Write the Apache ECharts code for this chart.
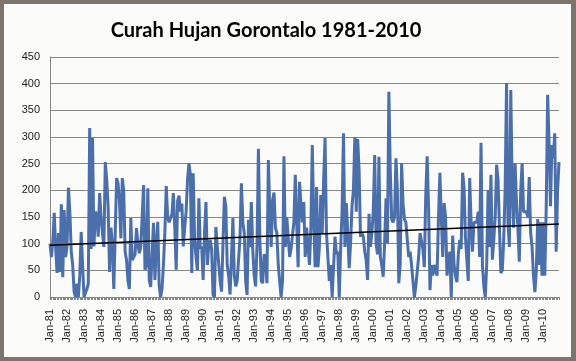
<!DOCTYPE html>
<html><head><meta charset="utf-8">
<script src="https://cdn.jsdelivr.net/npm/echarts@6/dist/echarts.min.js"></script>
<style>
html,body{margin:0;padding:0;width:576px;height:361px;background:#7c756e;overflow:hidden;}
#c{position:absolute;left:4px;top:4px;width:567px;height:353px;background:#fbfbfa;}
</style></head><body>
<div id="c"></div>
<script>
// ---- data ----
const years = [1981,1982,1983,1984,1985,1986,1987,1988,1989,1990,1991,1992,1993,1994,1995,1996,1997,1998,1999,2000,2001,2002,2003,2004,2005,2006,2007,2008,2009,2010];
const monthNames = ['Jan','Feb','Mar','Apr','May','Jun','Jul','Aug','Sep','Oct','Nov','Dec'];
const r1981 = [100, 75, 105, 158, 90, 45, 120, 47, 174, 37, 163, 75];
const r1982 = [94, 205, 160, 85, 60, 10, 0, 25, 0, 40, 122, 60];
const r1983 = [0, 0, 15, 25, 317, 90, 298, 95, 160, 155, 113, 195];
const r1984 = [150, 120, 94, 253, 220, 169, 47, 130, 100, 15, 120, 223];
const r1985 = [213, 180, 110, 223, 200, 85, 69, 30, 15, 148, 69, 69];
const r1986 = [80, 129, 100, 82, 94, 150, 210, 51, 60, 204, 32, 19];
const r1987 = [80, 139, 32, 100, 141, 22, 0, 15, 60, 120, 208, 150];
const r1988 = [140, 140, 155, 195, 130, 51, 180, 190, 160, 175, 95, 130];
const r1989 = [160, 220, 251, 230, 45, 232, 107, 75, 50, 185, 90, 94];
const r1990 = [32, 120, 178, 60, 100, 107, 90, 4, 0, 131, 94, 94];
const r1991 = [30, 10, 100, 188, 170, 60, 40, 5, 75, 148, 40, 20];
const r1992 = [30, 30, 110, 213, 140, 120, 30, 4, 145, 94, 178, 90];
const r1993 = [40, 20, 94, 278, 110, 30, 26, 80, 75, 26, 257, 163];
const r1994 = [94, 182, 196, 130, 120, 60, 30, 0, 30, 264, 94, 150];
const r1995 = [150, 75, 90, 90, 140, 229, 140, 56, 216, 175, 140, 178];
const r1996 = [75, 130, 130, 60, 130, 285, 140, 56, 206, 56, 94, 191];
const r1997 = [120, 220, 298, 120, 75, 30, 60, 0, 0, 113, 80, 85];
const r1998 = [0, 90, 160, 307, 94, 176, 120, 54, 100, 170, 200, 300];
const r1999 = [160, 296, 238, 113, 120, 113, 85, 70, 32, 156, 94, 120];
const r2000 = [160, 266, 100, 80, 263, 75, 60, 38, 100, 185, 100, 385];
const r2001 = [238, 146, 140, 150, 260, 200, 26, 60, 251, 176, 146, 140];
const r2002 = [107, 75, 85, 60, 30, 0, 20, 20, 75, 120, 120, 90];
const r2003 = [56, 190, 264, 170, 13, 60, 40, 60, 60, 40, 150, 233];
const r2004 = [150, 75, 176, 150, 40, 60, 85, 0, 115, 60, 40, 28];
const r2005 = [80, 107, 90, 233, 208, 113, 70, 30, 223, 140, 85, 140];
const r2006 = [140, 140, 160, 75, 289, 60, 20, 0, 60, 200, 94, 229];
const r2007 = [70, 107, 150, 248, 220, 130, 45, 50, 107, 200, 401, 140];
const r2008 = [94, 388, 200, 130, 251, 180, 130, 66, 200, 251, 160, 160];
const r2009 = [160, 150, 225, 120, 94, 40, 9, 50, 146, 60, 140, 40];
const r2010 = [140, 40, 170, 379, 290, 170, 285, 260, 307, 85, 200, 253];
const trendEnds = [97, 137];          // linear trend value at first and last month
const yTicks = {min: 0, max: 450, step: 50};

// ---- build ----
const yearly = [r1981,r1982,r1983,r1984,r1985,r1986,r1987,r1988,r1989,r1990,r1991,r1992,r1993,r1994,r1995,r1996,r1997,r1998,r1999,r2000,r2001,r2002,r2003,r2004,r2005,r2006,r2007,r2008,r2009,r2010];
const categories = [];
years.forEach(y => monthNames.forEach(m => categories.push(m + '-' + String(y).slice(2))));
const rain = [].concat(...yearly);
const trend = categories.map((c, i) => i === 0 ? trendEnds[0] : (i === categories.length - 1 ? trendEnds[1] : null));

const chart = echarts.init(document.getElementById('c'), null, {renderer: 'canvas'});
chart.setOption({
  animation: false,
  backgroundColor: '#fbfbfa',
  title: {
    text: 'Curah Hujan Gorontalo 1981-2010',
    left: 257, top: 12, textAlign: 'center',
    textStyle: {fontFamily: 'Lato', fontWeight: 'bold', fontSize: 20, color: '#000'}
  },
  grid: {left: 46, right: 12, top: 53, bottom: 60, containLabel: false},
  xAxis: {
    type: 'category', data: categories, boundaryGap: false,
    axisLine: {lineStyle: {color: '#868686', width: 1}},
    axisTick: {show: true, interval: 0, length: 3, lineStyle: {color: '#868686'}},
    axisLabel: {interval: 11, rotate: 90, margin: 12, fontFamily: 'Liberation Sans', fontSize: 11, color: '#222'},
    splitLine: {show: false}
  },
  yAxis: {
    type: 'value', min: yTicks.min, max: yTicks.max, interval: yTicks.step,
    axisLine: {show: true, lineStyle: {color: '#868686'}},
    axisTick: {show: false},
    axisLabel: {margin: 10, fontFamily: 'Liberation Sans', fontSize: 11, color: '#222'},
    splitLine: {lineStyle: {color: '#868686', width: 1}}
  },
  series: [
    {type: 'line', data: rain, symbol: 'none', lineStyle: {color: '#4a6fab', width: 3}, z: 2},
    {type: 'line', data: trend, connectNulls: true, symbol: 'none', lineStyle: {color: '#000', width: 1.5}, z: 3}
  ]
});
</script>
</body></html>
